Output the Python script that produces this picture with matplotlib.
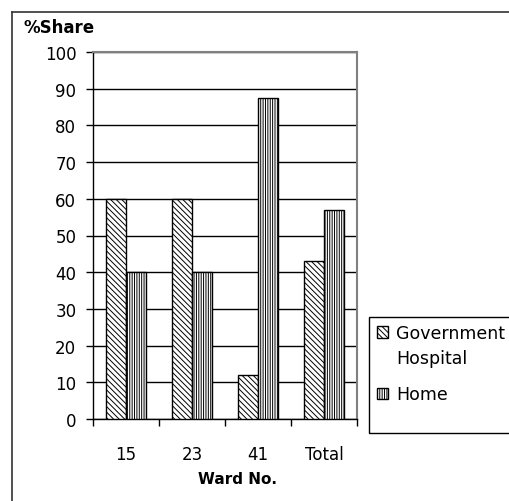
import numpy as np
import matplotlib
matplotlib.use('Agg')
import matplotlib.pyplot as plt
from matplotlib.lines import Line2D
from matplotlib.patches import Rectangle

# Données du graphique
wards = ['15', '23', '41', 'Total']
gov_hospital = [60, 60, 12, 43]
home = [40, 40, 87.5, 57]
series_names = ['Government', 'Home']

plt.rcParams['font.family'] = 'DejaVu Sans'
plt.rcParams['hatch.linewidth'] = 0.7

W, H = 510, 502
fig = plt.figure(figsize=(W / 100, H / 100), dpi=100)
ax = fig.add_axes([93 / W, 1 - 420 / H, 264 / W, 367 / H])

x = np.arange(len(wards))
bw = 0.3
b1 = ax.bar(x - bw / 2, gov_hospital, bw, color='white', edgecolor='black',
            linewidth=1, hatch='\\' * 6, zorder=3)
b2 = ax.bar(x + bw / 2, home, bw, color='white', edgecolor='black',
            linewidth=1, hatch='|' * 7, zorder=3)

ax.set_xlim(-0.5, len(wards) - 0.5)
ax.set_ylim(0, 100)
ax.set_yticks(range(0, 101, 10))
ax.yaxis.grid(True, color='black', linewidth=1)
ax.set_axisbelow(True)

# Ejes y bordes
for s in ['top', 'right']:
    ax.spines[s].set_color('#808080')
    ax.spines[s].set_linewidth(1.5)
for s in ['left', 'bottom']:
    ax.spines[s].set_color('black')
    ax.spines[s].set_linewidth(1)

ax.set_xticks(x)
ax.set_xticklabels(wards)
ax.set_xticks(np.arange(-0.5, len(wards)), minor=True)
ax.tick_params(axis='x', which='major', length=0, pad=19, labelsize=12)
ax.tick_params(axis='x', which='minor', length=5, width=1, direction='out')
ax.tick_params(axis='y', length=5, width=1, pad=7, labelsize=12)

fig.text(24 / W, 1 - 28 / H, '%Share', fontsize=12, fontweight='bold',
         ha='left', va='center')
fig.text(238 / W, 1 - 480 / H, 'Ward No.', fontsize=11, fontweight='bold',
         ha='center', va='center')

# Marco exterior
fig.add_artist(Line2D([12 / W, 1], [1 - 13 / H] * 2, transform=fig.transFigure,
                      color='#333333', linewidth=1.2))
fig.add_artist(Line2D([12 / W] * 2, [0, 1 - 13 / H], transform=fig.transFigure,
                      color='#333333', linewidth=1.2))

# Leyenda
fig.add_artist(Rectangle((369 / W, 1 - 434 / H), 200 / W, 116 / H,
                         transform=fig.transFigure, fill=False,
                         edgecolor='black', linewidth=1))
fig.legend([b1, b2], series_names, loc='upper left',
           bbox_to_anchor=(377 / W, 1 - 325 / H), frameon=False, fontsize=12.5,
           handlelength=0.65, handleheight=0.65, handletextpad=0.45,
           labelspacing=2.5, borderpad=0, borderaxespad=0)
fig.text(396 / W, 1 - 359 / H, 'Hospital', fontsize=12.5, ha='left', va='center')

fig.savefig('out.png', dpi=100)
